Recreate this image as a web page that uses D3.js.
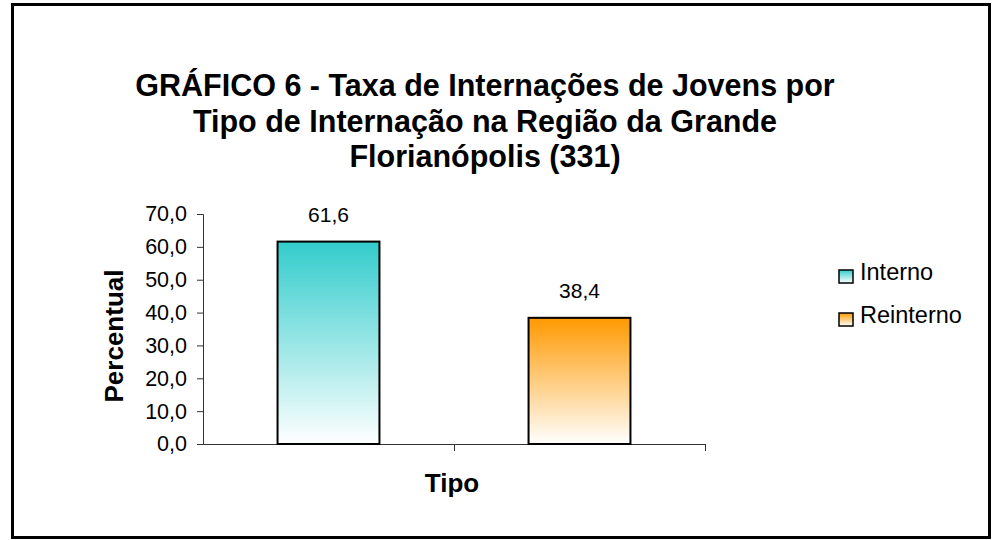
<!DOCTYPE html>
<html>
<head>
<meta charset="utf-8">
<script src="https://cdn.jsdelivr.net/npm/d3@7"></script>
<style>
  body { margin: 0; background: #fff; }
  svg { display: block; font-family: "Liberation Sans", Arial, sans-serif; }
</style>
</head>
<body>
<div id="chart-area"></div>
<script>
const categories = ["Interno", "Reinterno"];
const values = [61.6, 38.4];
const yTicks = [0, 10, 20, 30, 40, 50, 60, 70];
const titleLines = [
  "GRÁFICO 6 - Taxa de Internações de Jovens por",
  "Tipo de Internação na Região da Grande",
  "Florianópolis (331)"
];
const colors = ["#33cccc", "#ff9900"];

const canvasWidth = 992;
const canvasHeight = 540;

const plot = {left: 203, right: 705, top: 214, bottom: 444};

const canvas = d3.select("#chart-area").append("svg")
  .attr("width", canvasWidth).attr("height", canvasHeight);

// gradients: full colour at the top fading to white at the bottom
const defs = canvas.append("defs");
categories.forEach((c, i) => {
  const g = defs.append("linearGradient").attr("id", "grad" + i)
    .attr("x1", 0).attr("y1", 0).attr("x2", 0).attr("y2", 1);
  g.append("stop").attr("offset", "0%").attr("stop-color", colors[i]);
  g.append("stop").attr("offset", "100%").attr("stop-color", "#ffffff");
});

// outer frame
canvas.append("rect")
  .attr("x", 12.5).attr("y", 4.5)
  .attr("width", 977).attr("height", 533)
  .attr("fill", "none").attr("stroke", "#000").attr("stroke-width", 3);

// title
canvas.append("g").selectAll("text")
  .data(titleLines)
  .enter().append("text")
  .attr("x", 485)
  .attr("y", (d, i) => 96 + i * 35.5)
  .attr("text-anchor", "middle")
  .attr("font-size", "30.5px")
  .attr("font-weight", "bold")
  .text(d => d);

const yScale = d3.scaleLinear().domain([0, 70]).range([plot.bottom, plot.top]);
const xScale = d3.scaleBand().domain(categories).range([plot.left, plot.right])
  .paddingInner(0.594).paddingOuter(0.297);
const xCat = d3.scaleBand().domain(categories).range([plot.left, plot.right]);

// y axis
const yAxis = d3.axisLeft(yScale).tickValues(yTicks).tickSizeOuter(0).tickSize(6)
  .tickPadding(10)
  .tickFormat(d => d3.format(".1f")(d).replace(".", ","));
const yG = canvas.append("g").attr("transform", `translate(${plot.left}, 0)`).call(yAxis);
yG.select(".domain").attr("stroke", "#333");
yG.selectAll(".tick line").attr("stroke", "#333");
yG.selectAll(".tick text").attr("font-size", "21.5px").attr("fill", "#000")
  .attr("font-family", "Liberation Sans, Arial, sans-serif");

// x axis: line plus ticks at category boundaries
const xG = canvas.append("g");
xG.append("line")
  .attr("x1", plot.left).attr("x2", plot.right)
  .attr("y1", plot.bottom + 0.5).attr("y2", plot.bottom + 0.5)
  .attr("stroke", "#333");
xG.selectAll(".xtick")
  .data(categories)
  .enter().append("line")
  .attr("class", "xtick")
  .attr("x1", d => Math.round(xCat(d) + xCat.bandwidth()) + 0.5)
  .attr("x2", d => Math.round(xCat(d) + xCat.bandwidth()) + 0.5)
  .attr("y1", plot.bottom).attr("y2", plot.bottom + 7)
  .attr("stroke", "#333");

// bars
canvas.append("g").selectAll("rect")
  .data(values)
  .enter().append("rect")
  .attr("x", (d, i) => xScale(categories[i]))
  .attr("y", d => yScale(d))
  .attr("width", xScale.bandwidth())
  .attr("height", d => plot.bottom - yScale(d))
  .attr("fill", (d, i) => `url(#grad${i})`)
  .attr("stroke", "#000")
  .attr("stroke-width", 2);

// value labels
canvas.append("g").selectAll("text")
  .data(values)
  .enter().append("text")
  .attr("x", (d, i) => xScale(categories[i]) + xScale.bandwidth() / 2)
  .attr("y", d => yScale(d) - 20)
  .attr("text-anchor", "middle")
  .attr("font-size", "21px")
  .text(d => d3.format(".1f")(d).replace(".", ","));

// axis titles
canvas.append("text")
  .attr("x", 452).attr("y", 492)
  .attr("text-anchor", "middle")
  .attr("font-size", "26px").attr("font-weight", "bold")
  .text("Tipo");

canvas.append("text")
  .attr("transform", "translate(123, 336) rotate(-90)")
  .attr("text-anchor", "middle")
  .attr("font-size", "26px").attr("font-weight", "bold")
  .text("Percentual");

// legend
const legend = canvas.append("g").selectAll("g")
  .data(categories)
  .enter().append("g")
  .attr("transform", (d, i) => `translate(839, ${270 + i * 43})`);
legend.append("rect")
  .attr("width", 14).attr("height", 13)
  .attr("fill", (d, i) => `url(#grad${i})`)
  .attr("stroke", "#000").attr("stroke-width", 1.5);
legend.append("text")
  .attr("x", 21).attr("y", 10)
  .attr("font-size", "23.5px")
  .text(d => d);
</script>
</body>
</html>
